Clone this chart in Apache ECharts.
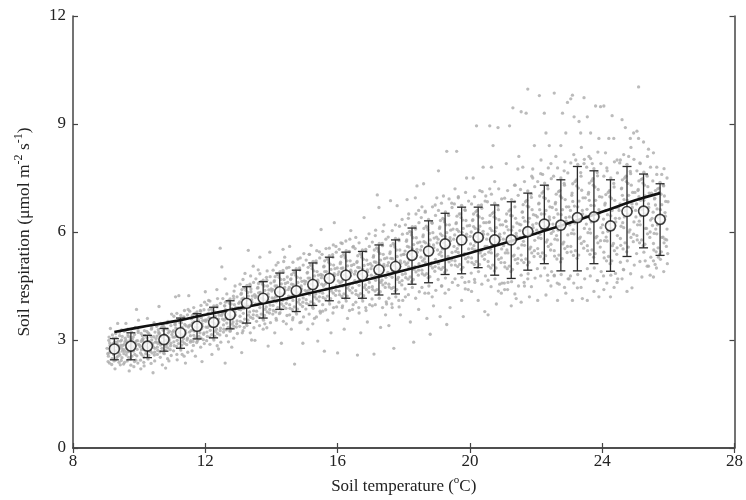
<!DOCTYPE html>
<html>
<head>
<meta charset="utf-8">
<script src="https://cdn.jsdelivr.net/npm/echarts@6/dist/echarts.min.js"></script>
<style>html,body{margin:0;padding:0;background:#fff}#c{width:746px;height:500px}</style>
</head>
<body>
<div id="c"></div>
<script>
// Bin centres (soil temperature, °C)
var binT = [9.25,9.75,10.25,10.75,11.25,11.75,12.25,12.75,13.25,13.75,14.25,14.75,15.25,15.75,16.25,16.75,17.25,17.75,18.25,18.75,19.25,19.75,20.25,20.75,21.25,21.75,22.25,22.75,23.25,23.75,24.25,24.75,25.25,25.75];
// Bin means of soil respiration
var binMean = [2.75,2.83,2.83,3.01,3.20,3.38,3.49,3.70,4.02,4.16,4.34,4.37,4.54,4.71,4.80,4.80,4.95,5.04,5.35,5.47,5.67,5.78,5.85,5.78,5.78,6.01,6.22,6.19,6.40,6.42,6.17,6.57,6.58,6.35];
// Error bar bounds
var binLow = [2.45,2.45,2.51,2.69,2.77,3.03,3.06,3.31,3.47,3.61,3.85,3.79,3.96,4.09,4.16,4.16,4.25,4.28,4.55,4.59,4.82,4.84,5.01,4.80,4.71,4.94,5.12,4.92,4.92,5.12,4.91,5.32,5.56,5.35];
var binHigh = [3.04,3.20,3.13,3.32,3.61,3.73,3.91,4.09,4.48,4.62,4.86,4.94,5.14,5.30,5.44,5.46,5.64,5.78,6.11,6.31,6.52,6.69,6.69,6.75,6.84,7.08,7.30,7.45,7.82,7.70,7.45,7.82,7.61,7.34];
// Fitted curve
var fitT = [9.25,10,11,12,13,14,15,16,17,18,19,20,21,22,23,24,25,25.75];
var fitR = [3.22,3.35,3.51,3.70,3.88,4.06,4.27,4.48,4.70,4.93,5.17,5.42,5.68,5.96,6.25,6.56,6.88,7.08];
// Tick labels
var xTicks = [8,12,16,20,24,28];
var yTicks = [0,3,6,9,12];
// Individual observations (T, R) flattened
var obs = [
9.05,2.62,9.12,2.85,9.18,2.48,9.22,3.05,9.27,2.71,9.31,2.93,9.36,2.55,9.41,3.12,9.46,2.78,9.08,2.99,9.15,2.67,9.24,2.42,9.33,2.81,9.39,2.64,9.44,2.97,9.48,2.51,9.2,2.76,9.29,3.18,9.1,2.36,9.35,3.46,9.27,2.2,9.43,2.31,9.13,3.32,9.47,3.28,
9.52,2.74,9.57,2.95,9.61,2.58,9.66,3.14,9.7,2.83,9.74,2.47,9.79,3.02,9.83,2.69,9.88,2.91,9.93,2.56,9.97,3.21,9.55,2.88,9.63,2.66,9.72,3.08,9.81,2.79,9.9,2.44,9.95,2.98,9.59,3.27,9.68,2.52,9.77,2.87,9.86,3.15,9.6,3.46,9.7,2.14,9.92,3.85,9.84,2.26,9.53,2.33,9.98,3.55,
10.03,2.81,10.08,2.59,10.12,3.04,10.17,2.72,10.21,2.93,10.26,2.5,10.3,3.17,10.35,2.85,10.39,2.64,10.44,3.09,10.48,2.77,10.06,2.96,10.14,2.53,10.23,3.24,10.32,2.69,10.41,2.9,10.46,2.58,10.1,3.12,10.19,2.83,10.28,2.97,10.37,3.3,10.42,2.09,10.25,3.6,10.15,2.28,10.45,3.48,10.05,2.2,
10.52,2.95,10.56,2.71,10.61,3.19,10.65,2.86,10.7,3.07,10.74,2.64,10.78,3.32,10.83,2.99,10.87,2.78,10.92,3.24,10.96,2.91,10.54,3.11,10.63,2.67,10.72,3.41,10.81,2.82,10.89,3.03,10.94,2.73,10.58,3.29,10.67,2.95,10.76,3.15,10.85,3.47,10.6,3.93,10.7,2.31,10.9,2.42,10.98,3.72,10.8,2.22,
11.02,3.08,11.06,2.84,11.11,3.33,11.15,2.99,11.2,3.21,11.24,2.78,11.28,3.48,11.33,3.12,11.37,2.91,11.42,3.39,11.46,3.05,11.04,3.26,11.13,2.82,11.22,3.58,11.31,2.96,11.39,3.17,11.44,2.87,11.08,3.44,11.17,3.1,11.26,3.3,11.35,3.64,11.1,4.2,11.2,4.23,11.4,2.36,11.15,2.45,11.48,3.85,11.3,2.6,
11.52,3.22,11.56,2.98,11.61,3.47,11.65,3.13,11.7,3.36,11.74,2.93,11.78,3.63,11.83,3.27,11.87,3.05,11.92,3.54,11.96,3.2,11.54,3.41,11.63,2.96,11.72,3.74,11.81,3.1,11.89,3.32,11.94,3.01,11.58,3.59,11.67,3.25,11.76,3.45,11.85,3.82,11.5,4.23,11.7,2.55,11.9,2.4,11.98,4.05,11.6,2.7,
12.02,3.36,12.06,3.1,12.11,3.62,12.15,3.27,12.2,3.5,12.24,3.05,12.28,3.78,12.33,3.41,12.37,3.18,12.42,3.69,12.46,3.33,12.04,3.56,12.13,3.08,12.22,3.88,12.31,3.24,12.39,3.47,12.44,3.14,12.08,3.73,12.17,3.38,12.26,3.6,12.35,3.96,12.0,4.34,12.35,4.4,12.45,5.55,12.2,2.6,12.4,2.75,12.1,4.1,
12.52,3.58,12.56,3.3,12.61,3.84,12.65,3.47,12.7,3.71,12.74,3.25,12.78,4.0,12.83,3.62,12.87,3.38,12.92,3.9,12.96,3.53,12.54,3.77,12.63,3.28,12.72,4.1,12.81,3.44,12.89,3.68,12.94,3.36,12.58,3.95,12.67,3.59,12.76,3.81,12.85,4.22,12.5,5.03,12.6,4.7,12.6,2.36,12.8,2.8,12.9,4.5,12.7,2.95,
13.02,3.85,13.06,3.52,13.11,4.14,13.15,3.74,13.2,4.0,13.24,3.45,13.28,4.32,13.33,3.92,13.37,3.63,13.42,4.22,13.46,3.81,13.04,4.06,13.13,3.48,13.22,4.44,13.31,3.69,13.39,3.97,13.44,3.6,13.08,4.27,13.17,3.88,13.26,4.11,13.35,4.55,13.3,5.49,13.1,2.65,13.4,3.0,13.2,4.85,13.45,5.05,13.12,3.2,13.38,4.42,13.18,3.35,
13.52,4.0,13.56,3.68,13.61,4.31,13.65,3.9,13.7,4.16,13.74,3.6,13.78,4.5,13.83,4.08,13.87,3.78,13.92,4.39,13.96,3.97,13.54,4.22,13.63,3.63,13.72,4.62,13.81,3.85,13.89,4.13,13.94,3.75,13.58,4.44,13.67,4.04,13.76,4.27,13.85,4.74,13.65,5.3,13.95,5.44,13.9,2.83,13.5,2.99,13.75,3.3,13.6,4.95,13.8,3.45,13.98,4.58,
14.02,4.17,14.06,3.82,14.11,4.5,14.15,4.06,14.2,4.33,14.24,3.73,14.28,4.68,14.33,4.25,14.37,3.94,14.42,4.57,14.46,4.12,14.04,4.4,14.13,3.78,14.22,4.81,14.31,4.0,14.39,4.3,14.44,3.88,14.08,4.62,14.17,4.2,14.26,4.45,14.35,4.93,14.35,5.52,14.3,2.91,14.1,3.2,14.45,3.45,14.2,5.15,14.4,5.3,14.15,3.55,14.48,4.75,
14.52,4.22,14.56,3.88,14.61,4.55,14.65,4.1,14.7,4.38,14.74,3.78,14.78,4.74,14.83,4.3,14.87,3.99,14.92,4.63,14.96,4.17,14.54,4.46,14.63,3.84,14.72,4.87,14.81,4.05,14.89,4.35,14.94,3.93,14.58,4.68,14.67,4.25,14.76,4.51,14.85,5.0,14.55,5.6,14.7,2.33,14.95,2.91,14.6,3.3,14.8,5.25,14.9,3.5,14.65,3.62,14.98,5.4,
15.02,4.38,15.06,4.02,15.11,4.72,15.15,4.26,15.2,4.55,15.24,3.93,15.28,4.92,15.33,4.47,15.37,4.14,15.42,4.8,15.46,4.33,15.04,4.63,15.13,3.98,15.22,5.06,15.31,4.2,15.39,4.52,15.44,4.08,15.08,4.86,15.17,4.42,15.26,4.68,15.35,5.2,15.2,5.63,15.4,2.97,15.1,3.3,15.3,3.6,15.45,5.45,15.15,5.38,15.48,3.75,15.25,3.45,
15.52,4.55,15.56,4.18,15.61,4.9,15.65,4.42,15.7,4.72,15.74,4.08,15.78,5.1,15.83,4.63,15.87,4.3,15.92,4.98,15.96,4.5,15.54,4.8,15.63,4.14,15.72,5.24,15.81,4.36,15.89,4.69,15.94,4.24,15.58,5.03,15.67,4.59,15.76,4.85,15.85,5.37,15.5,6.07,15.9,6.26,15.6,2.69,15.8,3.2,15.7,3.55,15.95,5.6,15.55,3.8,15.75,5.55,15.88,3.9,
16.02,4.64,16.06,4.26,16.11,4.99,16.15,4.5,16.2,4.81,16.24,4.15,16.28,5.2,16.33,4.72,16.37,4.38,16.42,5.07,16.46,4.58,16.04,4.89,16.13,4.21,16.22,5.33,16.31,4.44,16.39,4.78,16.44,4.31,16.08,5.12,16.17,4.67,16.26,4.94,16.35,5.46,16.0,2.64,16.4,6.04,16.2,3.3,16.3,3.6,16.1,5.7,16.45,3.85,16.25,5.75,16.15,3.95,16.48,5.6,
16.52,4.65,16.56,4.27,16.61,5.02,16.65,4.52,16.7,4.83,16.74,4.16,16.78,5.24,16.83,4.74,16.87,4.4,16.92,5.1,16.96,4.6,16.54,4.91,16.63,4.23,16.72,5.37,16.81,4.46,16.89,4.8,16.94,4.33,16.58,5.15,16.67,4.69,16.76,4.97,16.85,5.52,16.6,2.58,16.8,6.4,16.7,3.2,16.9,3.5,16.55,5.85,16.95,5.95,16.65,3.75,16.85,3.9,
17.02,4.8,17.06,4.4,17.11,5.17,17.15,4.66,17.2,4.98,17.24,4.29,17.28,5.4,17.33,4.89,17.37,4.53,17.42,5.26,17.46,4.74,17.04,5.06,17.13,4.36,17.22,5.53,17.31,4.6,17.39,4.95,17.44,4.46,17.08,5.3,17.17,4.84,17.26,5.12,17.35,5.68,17.1,2.61,17.2,7.03,17.25,6.68,17.3,3.35,17.45,3.7,17.15,6.05,17.4,6.2,17.05,3.95,17.48,4.0,
17.52,4.88,17.56,4.47,17.61,5.27,17.65,4.74,17.7,5.07,17.74,4.36,17.78,5.5,17.83,4.97,17.87,4.6,17.92,5.36,17.96,4.82,17.54,5.15,17.63,4.43,17.72,5.64,17.81,4.68,17.89,5.04,17.94,4.53,17.58,5.4,17.67,4.92,17.76,5.2,17.85,5.8,17.7,2.77,17.6,6.87,17.8,6.73,17.55,3.4,17.9,3.7,17.75,6.2,17.95,6.35,17.65,3.9,17.85,4.1,
18.02,5.17,18.06,4.73,18.11,5.6,18.15,5.03,18.2,5.38,18.24,4.62,18.28,5.84,18.33,5.28,18.37,4.89,18.42,5.7,18.46,5.12,18.04,5.47,18.13,4.69,18.22,5.99,18.31,4.96,18.39,5.35,18.44,4.8,18.08,5.74,18.17,5.22,18.26,5.53,18.35,6.15,18.1,6.9,18.35,6.95,18.4,7.28,18.3,2.94,18.2,3.5,18.45,3.85,18.15,6.5,18.05,4.2,18.45,6.6,
18.52,5.3,18.56,4.84,18.61,5.73,18.65,5.15,18.7,5.5,18.74,4.73,18.78,5.96,18.83,5.4,18.87,5.0,18.92,5.83,18.96,5.24,18.54,5.6,18.63,4.8,18.72,6.12,18.81,5.07,18.89,5.47,18.94,4.91,18.58,5.87,18.67,5.34,18.76,5.66,18.85,6.27,18.6,7.34,18.8,3.16,18.7,3.6,18.9,3.95,18.55,6.7,18.95,6.75,18.75,4.3,18.65,6.55,
19.02,5.5,19.06,5.0,19.11,5.95,19.15,5.33,19.2,5.7,19.24,4.88,19.28,6.2,19.33,5.6,19.37,5.17,19.42,6.05,19.46,5.43,19.04,5.8,19.13,4.96,19.22,6.35,19.31,5.25,19.39,5.67,19.44,5.08,19.08,6.1,19.17,5.53,19.26,5.87,19.35,6.47,19.0,6.95,19.2,7.0,19.05,7.7,19.3,8.24,19.3,3.43,19.1,3.65,19.4,3.9,19.25,4.3,19.45,6.8,19.15,4.5,
19.52,5.6,19.56,5.08,19.61,6.07,19.65,5.43,19.7,5.81,19.74,4.96,19.78,6.33,19.83,5.7,19.87,5.26,19.92,6.17,19.96,5.53,19.54,5.92,19.63,5.04,19.72,6.5,19.81,5.35,19.89,5.78,19.94,5.17,19.58,6.23,19.67,5.64,19.76,5.99,19.85,6.62,19.6,8.24,19.8,3.65,19.9,7.5,19.55,7.2,19.75,4.1,19.95,4.4,19.65,6.95,19.85,4.6,
20.02,5.67,20.06,5.15,20.11,6.15,20.15,5.5,20.2,5.88,20.24,5.02,20.28,6.42,20.33,5.77,20.37,5.33,20.42,6.26,20.46,5.6,20.04,6.0,20.13,5.1,20.22,6.6,20.31,5.42,20.39,5.85,20.44,5.24,20.08,6.32,20.17,5.72,20.26,6.07,20.35,6.75,20.1,7.5,20.2,8.95,20.4,7.8,20.45,3.79,20.25,4.1,20.05,4.35,20.3,7.15,20.15,4.6,20.48,7.0,
20.52,5.6,20.56,5.05,20.61,6.1,20.65,5.42,20.7,5.82,20.74,4.92,20.78,6.38,20.83,5.7,20.87,5.24,20.92,6.2,20.96,5.53,20.54,5.94,20.63,5.0,20.72,6.55,20.81,5.34,20.89,5.78,20.94,5.15,20.58,6.27,20.67,5.65,20.76,6.02,20.85,6.72,20.6,8.95,20.7,8.4,20.85,8.9,20.65,7.8,20.55,3.7,20.8,4.0,20.95,4.3,20.6,7.2,20.9,4.55,20.75,7.4,
21.02,5.62,21.06,5.03,21.11,6.15,21.15,5.42,21.2,5.84,21.24,4.9,21.28,6.45,21.33,5.71,21.37,5.23,21.42,6.25,21.46,5.55,21.04,5.97,21.13,4.98,21.22,6.62,21.31,5.33,21.39,5.8,21.44,5.13,21.08,6.3,21.17,5.67,21.26,6.05,21.35,6.85,21.3,9.45,21.2,8.95,21.1,7.9,21.45,7.75,21.25,3.95,21.4,4.15,21.05,4.4,21.35,7.3,21.15,4.6,21.48,8.1,
21.52,5.85,21.56,5.22,21.61,6.4,21.65,5.63,21.7,6.07,21.74,5.08,21.78,6.7,21.83,5.93,21.87,5.42,21.92,6.48,21.96,5.77,21.54,6.2,21.63,5.15,21.72,6.88,21.81,5.53,21.89,6.02,21.94,5.32,21.58,6.55,21.67,5.88,21.76,6.28,21.85,7.05,21.55,9.34,21.75,9.97,21.7,9.3,21.95,8.4,21.6,7.8,21.9,7.75,21.55,4.05,21.8,4.2,21.65,4.5,21.9,7.5,21.75,4.7,
22.02,6.05,22.06,5.4,22.11,6.62,22.15,5.82,22.2,6.28,22.24,5.25,22.28,6.93,22.33,6.13,22.37,5.6,22.42,6.7,22.46,5.96,22.04,6.42,22.13,5.32,22.22,7.12,22.31,5.72,22.39,6.22,22.44,5.5,22.08,6.78,22.17,6.08,22.26,6.5,22.35,7.28,22.1,9.79,22.25,9.3,22.4,8.4,22.3,8.75,22.15,8.0,22.45,7.9,22.05,4.1,22.3,4.25,22.45,4.5,22.2,7.6,22.35,4.8,
22.52,6.02,22.56,5.33,22.61,6.62,22.65,5.78,22.7,6.26,22.74,5.17,22.78,6.95,22.83,6.1,22.87,5.54,22.92,6.7,22.96,5.92,22.54,6.4,22.63,5.25,22.72,7.15,22.81,5.67,22.89,6.2,22.94,5.43,22.58,6.78,22.67,6.05,22.76,6.48,22.85,7.35,22.55,9.86,22.8,9.3,22.9,8.75,22.75,8.4,22.95,9.6,22.6,8.1,22.65,4.1,22.9,4.3,22.7,4.55,22.85,7.7,22.55,4.8,
23.02,6.2,23.06,5.45,23.11,6.85,23.15,5.95,23.2,6.45,23.24,5.27,23.28,7.22,23.33,6.3,23.37,5.68,23.42,6.95,23.46,6.1,23.04,6.6,23.13,5.35,23.22,7.45,23.31,5.82,23.39,6.4,23.44,5.55,23.08,7.02,23.17,6.25,23.26,6.7,23.35,7.65,23.05,9.7,23.1,9.8,23.15,9.2,23.3,9.07,23.45,9.73,23.35,8.75,23.2,8.0,23.1,4.1,23.4,4.15,23.25,4.45,23.45,7.9,23.0,4.7,
23.52,6.22,23.56,5.48,23.61,6.88,23.65,5.97,23.7,6.47,23.74,5.3,23.78,7.25,23.83,6.33,23.87,5.7,23.92,6.98,23.96,6.12,23.54,6.63,23.63,5.38,23.72,7.48,23.81,5.84,23.89,6.43,23.94,5.58,23.58,7.05,23.67,6.28,23.76,6.73,23.85,7.65,23.55,9.2,23.65,8.75,23.8,9.5,23.95,9.48,23.9,8.6,23.6,8.1,23.55,4.1,23.75,4.35,23.9,4.2,23.7,7.9,23.85,4.65,
24.02,5.98,24.06,5.28,24.11,6.6,24.15,5.75,24.2,6.22,24.24,5.12,24.28,6.93,24.33,6.07,24.37,5.48,24.42,6.68,24.46,5.9,24.04,6.36,24.13,5.2,24.22,7.15,24.31,5.62,24.39,6.18,24.44,5.38,24.08,6.75,24.17,6.02,24.26,6.45,24.35,7.35,24.05,9.5,24.3,9.23,24.2,8.6,24.45,8.0,24.1,8.2,24.35,8.6,24.05,4.4,24.25,4.2,24.45,4.6,24.15,7.7,24.4,4.85,
24.52,6.38,24.56,5.63,24.61,7.02,24.65,6.12,24.7,6.6,24.74,5.45,24.78,7.35,24.83,6.47,24.87,5.85,24.92,7.1,24.96,6.28,24.54,6.78,24.63,5.53,24.72,7.55,24.81,6.0,24.89,6.58,24.94,5.73,24.58,7.2,24.67,6.42,24.76,6.88,24.85,7.68,24.6,9.12,24.7,8.9,24.85,8.6,24.55,8.0,24.95,8.75,24.75,4.35,24.6,4.7,24.9,4.45,24.8,8.1,24.65,4.95,
25.02,6.42,25.06,5.78,25.11,6.98,25.15,6.2,25.2,6.62,25.24,5.62,25.28,7.3,25.33,6.5,25.37,5.95,25.42,7.08,25.46,6.33,25.04,6.78,25.13,5.7,25.22,7.48,25.31,6.1,25.39,6.6,25.44,5.85,25.08,7.15,25.17,6.45,25.26,6.88,25.35,7.58,25.1,10.03,25.1,8.6,25.25,8.5,25.4,8.3,25.05,8.8,25.2,4.75,25.45,4.8,25.3,5.2,25.15,7.9,25.4,5.05,
25.52,6.18,25.56,5.5,25.61,6.75,25.65,5.95,25.7,6.4,25.74,5.38,25.78,7.05,25.83,6.25,25.87,5.7,25.92,6.85,25.96,6.08,25.54,6.55,25.63,5.45,25.72,7.22,25.81,5.85,25.89,6.35,25.94,5.6,25.58,6.92,25.67,6.2,25.76,6.62,25.85,7.3,25.55,8.2,25.65,7.8,25.55,4.75,25.7,5.3,25.9,5.8,25.98,5.4,25.8,7.6,25.6,5.1
];
// Further observations in the dense core of the cloud (T, R) flattened
var obsCore = [
9.03,2.77,9.07,2.55,9.11,2.92,9.16,2.7,9.19,2.84,9.23,2.6,9.26,2.95,9.3,2.68,9.34,2.88,9.38,2.74,9.42,2.58,9.45,2.86,9.49,2.69,9.09,2.64,9.21,2.9,9.32,2.51,9.4,2.82,9.47,3.0,9.14,2.79,9.37,2.97,
9.51,2.85,9.54,2.62,9.58,3.05,9.62,2.77,9.65,2.91,9.69,2.68,9.73,3.0,9.76,2.72,9.8,2.94,9.84,2.81,9.87,2.6,9.91,2.97,9.94,2.74,9.98,2.88,9.56,2.7,9.67,3.1,9.78,2.55,9.89,2.84,9.6,2.99,9.82,3.08,
10.01,2.86,10.04,2.64,10.09,3.01,10.13,2.75,10.16,2.89,10.2,2.62,10.24,3.06,10.27,2.78,10.31,2.92,10.34,2.7,10.38,3.0,10.43,2.8,10.47,2.66,10.49,2.94,10.07,2.73,10.18,3.12,10.29,2.57,10.4,2.85,10.11,2.98,10.36,3.1,
10.51,3.04,10.55,2.8,10.59,3.22,10.62,2.93,10.66,3.1,10.69,2.77,10.73,3.27,10.77,2.98,10.8,3.13,10.84,2.88,10.88,3.2,10.91,3.0,10.95,2.84,10.99,3.15,10.57,2.9,10.68,3.35,10.79,2.72,10.9,3.06,10.6,3.17,10.86,3.3,
11.01,3.22,11.05,2.95,11.09,3.42,11.12,3.1,11.16,3.3,11.19,2.9,11.23,3.48,11.27,3.16,11.3,3.35,11.34,3.04,11.38,3.43,11.41,3.2,11.45,3.0,11.49,3.36,11.07,3.08,11.18,3.56,11.29,2.86,11.4,3.26,11.11,3.5,11.36,3.62,
11.51,3.4,11.55,3.12,11.59,3.6,11.62,3.28,11.66,3.5,11.69,3.06,11.73,3.66,11.77,3.35,11.8,3.54,11.84,3.2,11.88,3.62,11.91,3.38,11.95,3.16,11.99,3.55,11.57,3.26,11.68,3.74,11.79,3.02,11.9,3.45,11.61,3.68,11.86,3.8,
12.01,3.52,12.05,3.22,12.09,3.74,12.12,3.4,12.16,3.6,12.19,3.15,12.23,3.8,12.27,3.46,12.3,3.66,12.34,3.3,12.38,3.76,12.41,3.5,12.45,3.26,12.49,3.68,12.07,3.35,12.18,3.86,12.29,3.1,12.4,3.58,12.11,3.84,12.36,3.92,
12.51,3.72,12.55,3.42,12.59,3.95,12.62,3.6,12.66,3.82,12.69,3.35,12.73,4.02,12.77,3.66,12.8,3.88,12.84,3.5,12.88,3.98,12.91,3.7,12.95,3.45,12.99,3.9,12.57,3.55,12.68,4.08,12.79,3.32,12.9,3.78,12.61,4.05,12.86,4.15,
13.01,4.02,13.05,3.66,13.09,4.3,13.12,3.88,13.16,4.16,13.19,3.58,13.23,4.38,13.27,3.98,13.3,4.22,13.34,3.78,13.38,4.34,13.41,4.05,13.45,3.7,13.49,4.26,13.07,3.84,13.18,4.46,13.29,3.55,13.4,4.12,13.11,4.4,13.36,4.5,
13.51,4.18,13.55,3.8,13.59,4.46,13.62,4.02,13.66,4.32,13.69,3.72,13.73,4.55,13.77,4.12,13.8,4.38,13.84,3.92,13.88,4.5,13.91,4.2,13.95,3.85,13.99,4.42,13.57,3.98,13.68,4.62,13.79,3.68,13.9,4.28,13.61,4.57,13.86,4.66,
14.01,4.36,14.05,3.96,14.09,4.65,14.12,4.2,14.16,4.5,14.19,3.9,14.23,4.74,14.27,4.3,14.3,4.56,14.34,4.1,14.38,4.68,14.41,4.38,14.45,4.02,14.49,4.6,14.07,4.15,14.18,4.82,14.29,3.86,14.4,4.46,14.11,4.76,14.36,4.88,
14.51,4.4,14.55,3.98,14.59,4.7,14.62,4.22,14.66,4.54,14.69,3.92,14.73,4.8,14.77,4.33,14.8,4.6,14.84,4.12,14.88,4.72,14.91,4.42,14.95,4.05,14.99,4.64,14.57,4.18,14.68,4.88,14.79,3.86,14.9,4.5,14.61,4.82,14.86,4.95,
15.01,4.56,15.05,4.12,15.09,4.88,15.12,4.38,15.16,4.72,15.19,4.06,15.23,4.98,15.27,4.5,15.3,4.78,15.34,4.28,15.38,4.9,15.41,4.6,15.45,4.2,15.49,4.82,15.07,4.34,15.18,5.08,15.29,4.0,15.4,4.66,15.11,5.02,15.36,5.14,
15.51,4.73,15.55,4.3,15.59,5.05,15.62,4.55,15.66,4.9,15.69,4.22,15.73,5.16,15.77,4.67,15.8,4.96,15.84,4.45,15.88,5.08,15.91,4.78,15.95,4.38,15.99,5.0,15.57,4.5,15.68,5.25,15.79,4.15,15.9,4.84,15.61,5.2,15.86,5.3,
16.01,4.82,16.05,4.36,16.09,5.16,16.12,4.62,16.16,5.0,16.19,4.28,16.23,5.28,16.27,4.76,16.3,5.06,16.34,4.52,16.38,5.2,16.41,4.88,16.45,4.45,16.49,5.1,16.07,4.58,16.18,5.38,16.29,4.22,16.4,4.94,16.11,5.32,16.36,5.45,
16.51,4.83,16.55,4.37,16.59,5.18,16.62,4.63,16.66,5.01,16.69,4.29,16.73,5.3,16.77,4.77,16.8,5.07,16.84,4.53,16.88,5.22,16.91,4.89,16.95,4.46,16.99,5.12,16.57,4.59,16.68,5.4,16.79,4.23,16.9,4.95,16.61,5.34,16.86,5.46,
17.01,4.98,17.05,4.48,17.09,5.34,17.12,4.76,17.16,5.16,17.19,4.4,17.23,5.46,17.27,4.92,17.3,5.22,17.34,4.66,17.38,5.38,17.41,5.04,17.45,4.58,17.49,5.28,17.07,4.72,17.18,5.56,17.29,4.34,17.4,5.1,17.11,5.5,17.36,5.62,
17.51,5.07,17.55,4.55,17.59,5.45,17.62,4.84,17.66,5.26,17.69,4.46,17.73,5.58,17.77,5.0,17.8,5.32,17.84,4.74,17.88,5.5,17.91,5.13,17.95,4.65,17.99,5.38,17.57,4.8,17.68,5.68,17.79,4.4,17.9,5.2,17.61,5.62,17.86,5.76,
18.01,5.38,18.05,4.84,18.09,5.78,18.12,5.14,18.16,5.58,18.19,4.75,18.23,5.92,18.27,5.3,18.3,5.65,18.34,5.04,18.38,5.84,18.41,5.44,18.45,4.94,18.49,5.72,18.07,5.1,18.18,6.02,18.29,4.68,18.4,5.52,18.11,5.96,18.36,6.08,
18.51,5.5,18.55,4.94,18.59,5.92,18.62,5.25,18.66,5.7,18.69,4.84,18.73,6.06,18.77,5.42,18.8,5.78,18.84,5.14,18.88,5.98,18.91,5.56,18.95,5.04,18.99,5.86,18.57,5.2,18.68,6.16,18.79,4.76,18.9,5.64,18.61,6.1,18.86,6.24,
19.01,5.7,19.05,5.12,19.09,6.14,19.12,5.44,19.16,5.9,19.19,5.02,19.23,6.28,19.27,5.62,19.3,5.98,19.34,5.32,19.38,6.2,19.41,5.76,19.45,5.22,19.49,6.08,19.07,5.38,19.18,6.38,19.29,4.94,19.4,5.84,19.11,6.32,19.36,6.46,
19.51,5.8,19.55,5.2,19.59,6.26,19.62,5.54,19.66,6.02,19.69,5.1,19.73,6.4,19.77,5.72,19.8,6.1,19.84,5.4,19.88,6.32,19.91,5.86,19.95,5.3,19.99,6.18,19.57,5.46,19.68,6.5,19.79,5.02,19.9,5.94,19.61,6.44,19.86,6.6,
20.01,5.88,20.05,5.28,20.09,6.34,20.12,5.62,20.16,6.1,20.19,5.18,20.23,6.46,20.27,5.8,20.3,6.16,20.34,5.48,20.38,6.38,20.41,5.94,20.45,5.38,20.49,6.26,20.07,5.54,20.18,6.56,20.29,5.1,20.4,6.02,20.11,6.5,20.36,6.66,
20.51,5.8,20.55,5.18,20.59,6.28,20.62,5.52,20.66,6.04,20.69,5.08,20.73,6.42,20.77,5.72,20.8,6.12,20.84,5.38,20.88,6.34,20.91,5.86,20.95,5.28,20.99,6.2,20.57,5.44,20.68,6.52,20.79,5.0,20.9,5.94,20.61,6.46,20.86,6.62,
21.01,5.8,21.05,5.15,21.09,6.3,21.12,5.5,21.16,6.06,21.19,5.05,21.23,6.46,21.27,5.72,21.3,6.14,21.34,5.36,21.38,6.38,21.41,5.88,21.45,5.26,21.49,6.22,21.07,5.42,21.18,6.58,21.29,4.96,21.4,5.96,21.11,6.5,21.36,6.7,
21.51,6.04,21.55,5.36,21.59,6.56,21.62,5.74,21.66,6.3,21.69,5.25,21.73,6.72,21.77,5.96,21.8,6.38,21.84,5.58,21.88,6.62,21.91,6.12,21.95,5.48,21.99,6.46,21.57,5.64,21.68,6.84,21.79,5.16,21.9,6.2,21.61,6.76,21.86,6.96,
22.01,6.24,22.05,5.54,22.09,6.8,22.12,5.94,22.16,6.5,22.19,5.42,22.23,6.96,22.27,6.16,22.3,6.6,22.34,5.78,22.38,6.86,22.41,6.34,22.45,5.66,22.49,6.68,22.07,5.84,22.18,7.08,22.29,5.34,22.4,6.42,22.11,7.0,22.36,7.2,
22.51,6.22,22.55,5.48,22.59,6.82,22.62,5.9,22.66,6.5,22.69,5.36,22.73,7.0,22.77,6.12,22.8,6.62,22.84,5.72,22.88,6.9,22.91,6.3,22.95,5.6,22.99,6.7,22.57,5.8,22.68,7.12,22.79,5.26,22.9,6.4,22.61,7.05,22.86,7.3,
23.01,6.42,23.05,5.6,23.09,7.08,23.12,6.06,23.16,6.72,23.19,5.48,23.23,7.28,23.27,6.32,23.3,6.86,23.34,5.86,23.38,7.16,23.41,6.5,23.45,5.74,23.49,6.95,23.07,5.96,23.18,7.4,23.29,5.36,23.4,6.6,23.11,7.34,23.36,7.55,
23.51,6.44,23.55,5.62,23.59,7.1,23.62,6.08,23.66,6.74,23.69,5.5,23.73,7.3,23.77,6.34,23.8,6.88,23.84,5.88,23.88,7.18,23.91,6.52,23.95,5.76,23.99,6.97,23.57,5.98,23.68,7.42,23.79,5.4,23.9,6.62,23.61,7.36,23.86,7.56,
24.01,6.2,24.05,5.44,24.09,6.8,24.12,5.86,24.16,6.48,24.19,5.32,24.23,6.98,24.27,6.1,24.3,6.6,24.34,5.68,24.38,6.88,24.41,6.28,24.45,5.56,24.49,6.68,24.07,5.76,24.18,7.1,24.29,5.2,24.4,6.38,24.11,7.04,24.36,7.25,
24.51,6.6,24.55,5.82,24.59,7.22,24.62,6.26,24.66,6.9,24.69,5.7,24.73,7.4,24.77,6.5,24.8,7.02,24.84,6.06,24.88,7.3,24.91,6.68,24.95,5.94,24.99,7.1,24.57,6.16,24.68,7.5,24.79,5.58,24.9,6.78,24.61,7.45,24.86,7.62,
25.01,6.6,25.05,5.9,25.09,7.18,25.12,6.3,25.16,6.88,25.19,5.78,25.23,7.36,25.27,6.5,25.3,7.0,25.34,6.1,25.38,7.26,25.41,6.68,25.45,6.0,25.49,7.08,25.07,6.2,25.18,7.46,25.29,5.66,25.4,6.78,25.11,7.42,25.36,7.55,
25.51,6.38,25.55,5.68,25.59,6.94,25.62,6.08,25.66,6.64,25.69,5.56,25.73,7.1,25.77,6.26,25.8,6.76,25.84,5.86,25.88,7.0,25.91,6.44,25.95,5.78,25.99,6.84,25.57,5.96,25.68,7.2,25.79,5.45,25.9,6.54,25.61,7.15,25.86,7.28
];
// Observations just outside the error bars, where the cloud is still dense (T, R) flattened
var obsShoulder = [
9.06,2.4,9.17,2.32,9.28,2.44,9.39,2.38,9.46,2.43,9.09,3.08,9.19,3.14,9.3,3.06,9.41,3.22,9.49,3.1,
9.56,2.38,9.64,2.42,9.75,2.3,9.86,2.4,9.96,2.36,9.55,3.24,9.66,3.3,9.77,3.22,9.88,3.35,9.97,3.26,
10.04,2.44,10.14,2.38,10.27,2.47,10.36,2.35,10.47,2.42,10.06,3.18,10.16,3.26,10.27,3.2,10.38,3.34,10.48,3.22,
10.55,2.6,10.64,2.52,10.76,2.62,10.86,2.48,10.97,2.57,10.53,3.38,10.65,3.46,10.75,3.36,10.87,3.52,10.96,3.4,
11.04,2.7,11.14,2.6,11.26,2.72,11.36,2.55,11.47,2.66,11.05,3.66,11.14,3.74,11.26,3.68,11.37,3.82,11.46,3.7,
11.55,2.94,11.64,2.85,11.76,2.97,11.86,2.8,11.97,2.9,11.53,3.8,11.65,3.9,11.75,3.78,11.87,3.96,11.96,3.84,
12.04,2.98,12.14,2.88,12.26,3.0,12.36,2.84,12.47,2.94,12.05,3.98,12.14,4.08,12.26,3.95,12.37,4.15,12.46,4.02,
12.55,3.22,12.64,3.12,12.76,3.25,12.86,3.05,12.97,3.18,12.53,4.15,12.65,4.28,12.75,4.14,12.87,4.36,12.96,4.2,
13.04,3.38,13.14,3.26,13.26,3.4,13.36,3.2,13.47,3.34,13.05,4.55,13.14,4.68,13.26,4.52,13.37,4.78,13.46,4.6,
13.55,3.52,13.64,3.4,13.76,3.55,13.86,3.34,13.97,3.48,13.53,4.7,13.65,4.84,13.75,4.66,13.87,4.92,13.96,4.76,
14.04,3.72,14.14,3.6,14.26,3.76,14.36,3.52,14.47,3.68,14.05,4.94,14.14,5.08,14.26,4.9,14.37,5.18,14.46,5.0,
14.55,3.7,14.64,3.56,14.76,3.72,14.86,3.48,14.97,3.64,14.53,5.02,14.65,5.16,14.75,4.98,14.87,5.28,14.96,5.08,
15.04,3.86,15.14,3.72,15.26,3.88,15.36,3.64,15.47,3.8,15.05,5.22,15.14,5.38,15.26,5.18,15.37,5.48,15.46,5.28,
15.55,3.98,15.64,3.84,15.76,4.0,15.86,3.75,15.97,3.92,15.53,5.38,15.65,5.54,15.75,5.34,15.87,5.64,15.96,5.44,
16.04,4.05,16.14,3.9,16.26,4.08,16.36,3.82,16.47,3.98,16.05,5.52,16.14,5.68,16.26,5.48,16.37,5.8,16.46,5.58,
16.55,4.05,16.64,3.9,16.76,4.08,16.86,3.82,16.97,3.98,16.53,5.54,16.65,5.7,16.75,5.5,16.87,5.82,16.96,5.6,
17.04,4.14,17.14,3.98,17.26,4.16,17.36,3.9,17.47,4.06,17.05,5.72,17.14,5.9,17.26,5.68,17.37,6.02,17.46,5.8,
17.55,4.16,17.64,4.0,17.76,4.2,17.86,3.92,17.97,4.1,17.53,5.86,17.65,6.04,17.75,5.82,17.87,6.16,17.96,5.94,
18.04,4.42,18.14,4.26,18.26,4.46,18.36,4.16,18.47,4.34,18.05,6.2,18.14,6.38,18.26,6.15,18.37,6.5,18.46,6.26,
18.55,4.46,18.64,4.3,18.76,4.5,18.86,4.2,18.97,4.38,18.53,6.4,18.65,6.58,18.75,6.35,18.87,6.7,18.96,6.46,
19.04,4.68,19.14,4.5,19.26,4.72,19.36,4.4,19.47,4.6,19.05,6.6,19.14,6.8,19.26,6.56,19.37,6.92,19.46,6.68,
19.55,4.7,19.64,4.52,19.76,4.74,19.86,4.42,19.97,4.62,19.53,6.78,19.65,6.98,19.75,6.74,19.87,7.1,19.96,6.86,
20.04,4.86,20.14,4.68,20.26,4.9,20.36,4.55,20.47,4.78,20.05,6.78,20.14,6.98,20.26,6.74,20.37,7.12,20.46,6.86,
20.55,4.66,20.64,4.48,20.76,4.7,20.86,4.36,20.97,4.58,20.53,6.84,20.65,7.05,20.75,6.8,20.87,7.2,20.96,6.92,
21.04,4.58,21.14,4.4,21.26,4.62,21.36,4.28,21.47,4.5,21.05,6.94,21.14,7.15,21.26,6.9,21.37,7.3,21.46,7.02,
21.55,4.8,21.64,4.6,21.76,4.84,21.86,4.48,21.97,4.72,21.53,7.18,21.65,7.4,21.75,7.14,21.87,7.55,21.96,7.26,
22.04,4.98,22.14,4.78,22.26,5.0,22.36,4.65,22.47,4.9,22.05,7.4,22.14,7.62,22.26,7.36,22.37,7.78,22.46,7.48,
22.55,4.78,22.64,4.58,22.76,4.82,22.86,4.46,22.97,4.7,22.53,7.55,22.65,7.78,22.75,7.5,22.87,7.95,22.96,7.64,
23.04,4.78,23.14,4.58,23.26,4.82,23.36,4.46,23.47,4.7,23.05,7.92,23.14,8.15,23.26,7.88,23.37,8.35,23.46,8.02,
23.55,4.98,23.64,4.78,23.76,5.0,23.86,4.65,23.97,4.9,23.53,7.8,23.65,8.04,23.75,7.76,23.87,8.22,23.96,7.9,
24.04,4.78,24.14,4.58,24.26,4.8,24.36,4.46,24.47,4.7,24.05,7.55,24.14,7.78,24.26,7.5,24.37,7.95,24.46,7.64,
24.55,5.16,24.64,4.96,24.76,5.2,24.86,4.84,24.97,5.08,24.53,7.92,24.65,8.15,24.75,7.88,24.87,8.35,24.96,8.02,
25.04,5.4,25.14,5.18,25.26,5.44,25.36,5.05,25.47,5.3,25.05,7.7,25.14,7.92,25.26,7.66,25.37,8.1,25.46,7.8,
25.55,5.2,25.64,5.0,25.76,5.24,25.86,4.9,25.97,5.12,25.53,7.42,25.65,7.6,25.75,7.38,25.87,7.76,25.96,7.5
];

var scatterData = [];
var i;
for (i = 0; i + 1 < obs.length; i += 2) scatterData.push([obs[i], obs[i+1]]);
for (i = 0; i + 1 < obsCore.length; i += 2) scatterData.push([obsCore[i], obsCore[i+1]]);
for (i = 0; i + 1 < obsShoulder.length; i += 2) scatterData.push([obsShoulder[i], obsShoulder[i+1]]);
var meanData = binT.map(function(t, k){ return [t, binMean[k]]; });
var errData = binT.map(function(t, k){ return [t, binLow[k], binHigh[k]]; });
var fitData = fitT.map(function(t, k){ return [t, fitR[k]]; });

var FONT = '"Liberation Serif","Times New Roman",serif';
var axisLine = {show:true, lineStyle:{color:'#444', width:1.5}};
var tickIn = {show:true, inside:true, length:5, lineStyle:{color:'#444', width:1.2}};

var chart = echarts.init(document.getElementById('c'), null, {renderer:'canvas'});
chart.setOption({
  animation:false,
  backgroundColor:'#fff',
  grid:{left:73, right:11, top:16, bottom:47, containLabel:false},
  xAxis:[{
    type:'value', min:xTicks[0], max:xTicks[xTicks.length-1], interval:4,
    axisLine:axisLine, axisTick:tickIn, splitLine:{show:false},
    axisLabel:{fontFamily:FONT, fontSize:17, color:'#222', margin:5},
    name:'{n|Soil temperature (}{s|o}{n|C)}', nameLocation:'middle', nameGap:27,
    nameTextStyle:{rich:{
      n:{fontFamily:FONT, fontSize:17, color:'#222', lineHeight:20, verticalAlign:'bottom'},
      s:{fontFamily:FONT, fontSize:11, color:'#222', lineHeight:20, verticalAlign:'top', padding:[0,0,8,0]}
    }}
  },{
    type:'value', position:'top', min:8, max:28, interval:4,
    axisLine:axisLine, axisTick:tickIn, axisLabel:{show:false}, splitLine:{show:false}
  }],
  yAxis:[{
    type:'value', min:yTicks[0], max:yTicks[yTicks.length-1], interval:3,
    axisLine:axisLine, axisTick:tickIn, splitLine:{show:false},
    axisLabel:{fontFamily:FONT, fontSize:17, color:'#222', margin:7},
    name:'{n|Soil respiration (\u03bcmol m}{s|-2}{n| s}{s|-1}{n|)}', nameLocation:'middle', nameGap:40, nameRotate:90,
    nameTextStyle:{rich:{
      n:{fontFamily:FONT, fontSize:17.5, color:'#222', lineHeight:20, verticalAlign:'bottom'},
      s:{fontFamily:FONT, fontSize:12, color:'#222', lineHeight:20, verticalAlign:'top', padding:[0,0,8,0]}
    }}
  },{
    type:'value', position:'right', min:0, max:12, interval:3,
    axisLine:axisLine, axisTick:tickIn, axisLabel:{show:false}, splitLine:{show:false}
  }],
  series:[
    {
      type:'scatter', data:scatterData, symbol:'circle', symbolSize:3.3,
      itemStyle:{color:'#aaaaaa'}, silent:true, z:1, large:false
    },
    {
      type:'custom', z:3, silent:true,
      data:errData,
      renderItem:function(params, api){
        var x = api.value(0);
        var lo = api.coord([x, api.value(1)]);
        var hi = api.coord([x, api.value(2)]);
        var w = 4.5;
        var st = {stroke:'#2a2a2a', lineWidth:1.3};
        return {type:'group', children:[
          {type:'line', shape:{x1:lo[0], y1:lo[1], x2:hi[0], y2:hi[1]}, style:st},
          {type:'line', shape:{x1:lo[0]-w, y1:lo[1], x2:lo[0]+w, y2:lo[1]}, style:st},
          {type:'line', shape:{x1:hi[0]-w, y1:hi[1], x2:hi[0]+w, y2:hi[1]}, style:st}
        ]};
      }
    },
    {
      type:'line', data:fitData, smooth:true, showSymbol:false, z:4,
      lineStyle:{color:'#111', width:2.6}
    },
    {
      type:'scatter', data:meanData, symbol:'circle', symbolSize:10, z:5,
      itemStyle:{color:'#fff', borderColor:'#111', borderWidth:1.6}
    }
  ]
});
</script>
</body>
</html>
